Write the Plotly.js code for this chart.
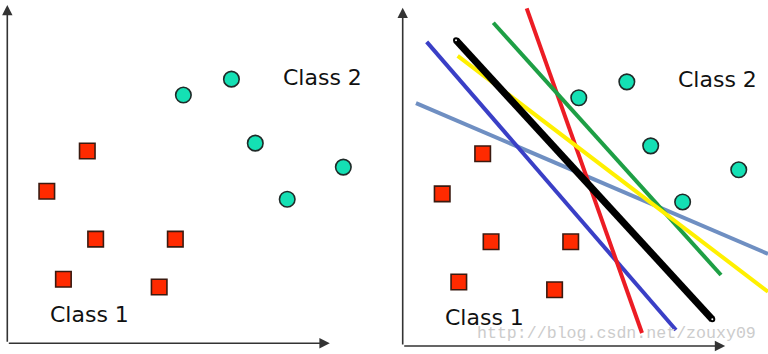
<!DOCTYPE html>
<html>
<head>
<meta charset="utf-8">
<script src="https://cdn.plot.ly/plotly-3.0.1.min.js"></script>
<style>html,body{margin:0;padding:0;background:#fff;}#chart{width:768px;height:354px;}</style>
</head>
<body>
<div id="chart"></div>
<script>
// ---- data (abstract units: axes run 0..100) ----
const class1X = [24.8, 12.25, 27.4, 52.1, 17.4, 47.1];
const class1Y = [57.4, 45.4, 31.1, 31.1, 19.1, 16.8];
const class2X = [54.6, 69.5, 76.9, 104.2, 86.8];
const class2Y = [74.1, 78.85, 59.75, 52.6, 43.0];

const steelLineX = [4.12, 113.27];   const steelLineY = [72.5, 27.5];
const blueLineX = [7.44, 84.74];     const blueLineY = [90.8, 4.78];
const redLineX = [38.45, 74.2];      const redLineY = [100.8, 3.88];
const greenLineX = [28.09, 98.7];    const greenLineY = [96.5, 21.2];
const yellowLineX = [17.05, 113.27]; const yellowLineY = [86.6, 16.2];
const blackLineX = [16.53, 96.0];    const blackLineY = [91.3, 7.97];

const axisEndX = 100, axisEndY = 101;
const class1Label = "Class 1", class2Label = "Class 2";
const class1LabelPos = [25.5, 8.45], class2LabelPos = [97.6, 79.45];
const watermark = "http://blog.csdn.net/zouxy09";

// ---- traces ----
const traces = [];
function lineTrace(xs, ys, color, width, ax) {
  return {x: xs, y: ys, mode: 'lines', type: 'scatter', xaxis: ax[0], yaxis: ax[1],
          line: {color: color, width: width}, hoverinfo: 'skip', showlegend: false};
}
const R = ['x2', 'y2'];
traces.push(lineTrace(steelLineX, steelLineY, '#6f8fc2', 4, R));
traces.push(lineTrace(blueLineX, blueLineY, '#3a3fc6', 4, R));
traces.push(lineTrace(redLineX, redLineY, '#ec1c24', 4, R));
traces.push(lineTrace(greenLineX, greenLineY, '#1e9f45', 4, R));
traces.push(lineTrace(yellowLineX, yellowLineY, '#fff000', 4, R));
traces.push({x: blackLineX, y: blackLineY, mode: 'lines+markers', type: 'scatter', xaxis: 'x2', yaxis: 'y2',
  line: {color: '#000', width: 7}, marker: {symbol: 'circle', size: 4, color: '#fff', line: {color: '#000', width: 2}},
  hoverinfo: 'skip', showlegend: false});

[['x', 'y'], ['x2', 'y2']].forEach(ax => {
  traces.push({x: class1X, y: class1Y, mode: 'markers', type: 'scatter', xaxis: ax[0], yaxis: ax[1],
    marker: {symbol: 'square', size: 15.5, color: '#ff2a00', line: {color: '#3a1a10', width: 1.6}},
    hoverinfo: 'skip', showlegend: false, cliponaxis: false});
  traces.push({x: class2X, y: class2Y, mode: 'markers', type: 'scatter', xaxis: ax[0], yaxis: ax[1],
    marker: {symbol: 'circle', size: 15.5, color: '#14e0b4', line: {color: '#1f2a28', width: 1.6}},
    hoverinfo: 'skip', showlegend: false, cliponaxis: false});
});

// ---- annotations ----
const ann = [];
[['x', 'y'], ['x2', 'y2']].forEach(ax => {
  const arrow = {text: '', showarrow: true, xref: ax[0], yref: ax[1], axref: ax[0], ayref: ax[1],
    arrowhead: 2, arrowsize: 1.3, arrowwidth: 1.6, arrowcolor: '#333', standoff: 0, startstandoff: 0};
  ann.push(Object.assign({}, arrow, {x: axisEndX, y: 0, ax: 0, ay: 0}));
  ann.push(Object.assign({}, arrow, {x: 0, y: axisEndY, ax: 0, ay: 0}));
  const tf = {family: 'DejaVu Sans, Verdana, sans-serif', size: 22, color: '#111'};
  ann.push({text: class1Label, x: class1LabelPos[0], y: class1LabelPos[1], xref: ax[0], yref: ax[1],
    xanchor: 'center', yanchor: 'middle', showarrow: false, font: tf});
  ann.push({text: class2Label, x: class2LabelPos[0], y: class2LabelPos[1], xref: ax[0], yref: ax[1],
    xanchor: 'center', yanchor: 'middle', showarrow: false, font: tf});
});
ann.push({text: watermark, xref: 'paper', yref: 'paper', x: 0.8027, y: 0.059, xanchor: 'center', yanchor: 'middle',
  showarrow: false, font: {family: 'Liberation Mono, monospace', size: 16.6, color: '#cccccc'}});

const hidden = {visible: false, showgrid: false, zeroline: false, fixedrange: true};
const layout = {
  width: 768, height: 354, margin: {l: 0, r: 0, t: 0, b: 0},
  paper_bgcolor: '#fff', plot_bgcolor: 'rgba(0,0,0,0)', showlegend: false,
  xaxis: Object.assign({}, hidden, {domain: [0, 0.5], range: [-2.264, 116.81]}),
  yaxis: Object.assign({}, hidden, {domain: [0, 1], range: [-3.194, 102.478]}),
  xaxis2: Object.assign({}, hidden, {domain: [0.5, 1], range: [-5.798, 113.271], anchor: 'y2'}),
  yaxis2: Object.assign({}, hidden, {domain: [0, 1], range: [-2.388, 103.284], anchor: 'x2'}),
  annotations: ann
};
Plotly.newPlot('chart', traces, layout, {displayModeBar: false, staticPlot: true});
</script>
</body>
</html>
